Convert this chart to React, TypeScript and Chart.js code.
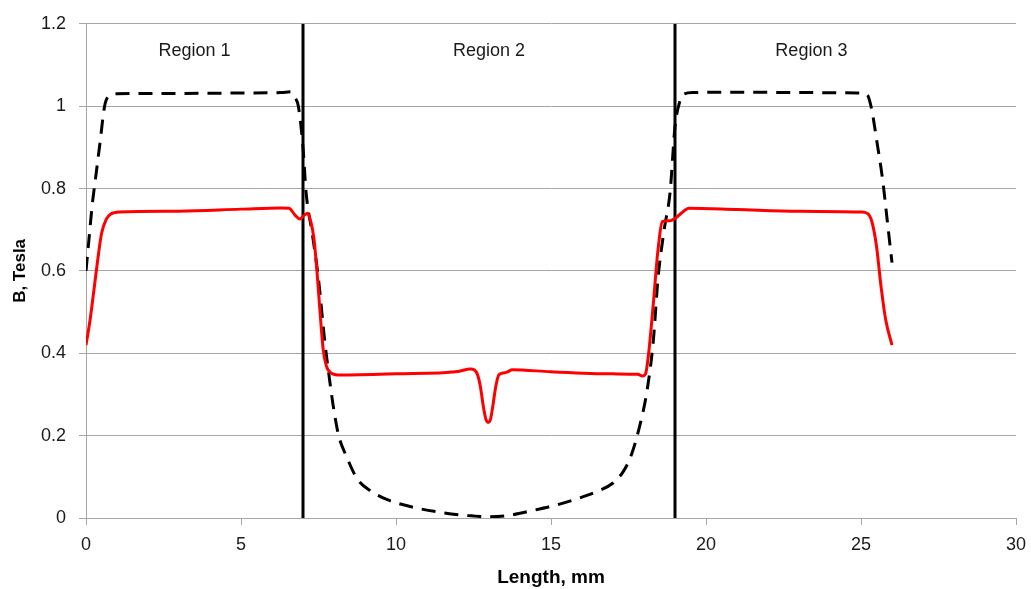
import React, { useEffect, useRef } from "react";
import { Chart, registerables } from "chart.js";

Chart.register(...registerables);

// Dashed black curve (x in mm, B in Tesla)
const dashedX = [0, 0.1, 0.2, 0.3, 0.45, 0.6, 0.75, 1.0, 3, 5, 6.3, 6.6, 6.75, 6.85, 7.0, 7.1, 7.3, 7.5, 7.7, 7.85, 8.0, 8.15, 8.4, 8.75, 9.2, 9.7, 10.5, 11.5, 12.3, 13.0, 13.6, 14.4, 15.2, 15.9, 16.5, 17.0, 17.35, 17.6, 17.85, 18.1, 18.3, 18.45, 18.65, 18.84, 19.0, 19.15, 19.3, 19.6, 21, 23, 25.0, 25.2, 25.35, 25.5, 25.7, 25.85, 26.0];
const dashedY = [0.6, 0.68, 0.76, 0.82, 0.91, 1.0, 1.025, 1.03, 1.031, 1.032, 1.033, 1.035, 1.02, 1.0, 0.9, 0.79, 0.69, 0.58, 0.43, 0.34, 0.26, 0.2, 0.15, 0.095, 0.065, 0.045, 0.027, 0.013, 0.006, 0.003, 0.006, 0.018, 0.032, 0.048, 0.065, 0.085, 0.115, 0.155, 0.22, 0.31, 0.43, 0.58, 0.7, 0.79, 0.95, 1.01, 1.03, 1.033, 1.034, 1.033, 1.032, 1.028, 0.99, 0.92, 0.82, 0.72, 0.62];

// Red curve
const redX = [0, 0.13, 0.25, 0.35, 0.5, 0.65, 0.8, 1.1, 3, 5, 6.3, 6.55, 6.75, 6.9, 7.05, 7.15, 7.25, 7.35, 7.45, 7.55, 7.65, 7.75, 7.9, 8.2, 10, 12.0, 12.4, 12.52, 12.62, 12.72, 12.82, 12.9, 12.97, 13.05, 13.12, 13.22, 13.32, 13.45, 13.6, 13.75, 15, 17.0, 17.8, 17.95, 18.05, 18.15, 18.3, 18.45, 18.6, 18.85, 19.0, 19.2, 19.45, 21, 23, 25.0, 25.2, 25.35, 25.5, 25.65, 25.8, 26.0];
const redY = [0.42, 0.48, 0.55, 0.61, 0.69, 0.725, 0.738, 0.743, 0.745, 0.75, 0.753, 0.752, 0.735, 0.726, 0.736, 0.74, 0.72, 0.68, 0.6, 0.5, 0.41, 0.37, 0.352, 0.347, 0.35, 0.356, 0.362, 0.36, 0.35, 0.32, 0.27, 0.24, 0.232, 0.24, 0.27, 0.32, 0.348, 0.352, 0.355, 0.36, 0.355, 0.35, 0.349, 0.345, 0.35, 0.4, 0.52, 0.65, 0.72, 0.722, 0.727, 0.74, 0.752, 0.749, 0.745, 0.743, 0.74, 0.72, 0.66, 0.56, 0.48, 0.42];

// Region boundaries and labels
const boundaries = [7, 19];
const regionLabels = ["Region 1", "Region 2", "Region 3"];
const regionLabelX = [3.5, 13, 23.4];
const regionLabelY = 1.135;

const xTicks = [0, 5, 10, 15, 20, 25, 30];
const yTicks = [0, 0.2, 0.4, 0.6, 0.8, 1, 1.2];

const FONT = "'Liberation Sans', Arial, sans-serif";
const TEXT = "#1a1a1a";
const GRID = "#a6a6a6";

const regionPlugin = {
  id: "regionLabels",
  afterDatasetsDraw(chart: any) {
    const { ctx, scales } = chart;
    ctx.save();
    ctx.font = `18px ${FONT}`;
    ctx.fillStyle = TEXT;
    ctx.textAlign = "center";
    ctx.textBaseline = "middle";
    regionLabels.forEach((t, i) => {
      ctx.fillText(t, scales.x.getPixelForValue(regionLabelX[i]), scales.y.getPixelForValue(regionLabelY));
    });
    ctx.restore();
  },
};

export default function App() {
  const ref = useRef<HTMLCanvasElement>(null);
  useEffect(() => {
    if (!ref.current) return;
    const toPts = (xs: number[], ys: number[]) => xs.map((x, i) => ({ x, y: ys[i] }));
    const chart = new Chart(ref.current, {
      type: "scatter",
      data: {
        datasets: [
          {
            data: toPts(redX, redY),
            showLine: true,
            borderColor: "#ff0000",
            borderWidth: 3,
            pointRadius: 0,
            cubicInterpolationMode: "monotone",
            order: 0,
          } as any,
          {
            data: toPts(dashedX, dashedY),
            showLine: true,
            borderColor: "#000000",
            borderWidth: 3,
            borderDash: [14, 9],
            pointRadius: 0,
            cubicInterpolationMode: "monotone",
            order: 1,
          } as any,
          ...boundaries.map((b) => ({
            data: [
              { x: b, y: yTicks[0] },
              { x: b, y: yTicks[yTicks.length - 1] },
            ],
            showLine: true,
            borderColor: "#000000",
            borderWidth: 3,
            pointRadius: 0,
            order: 2,
          })),
        ],
      },
      options: {
        animation: false,
        responsive: true,
        maintainAspectRatio: false,
        layout: { padding: { top: 21, right: 15, bottom: 0, left: 0 } },
        plugins: { legend: { display: false }, tooltip: { enabled: false } },
        scales: {
          x: {
            type: "linear",
            min: 0,
            max: 30,
            afterBuildTicks: (s: any) => {
              s.ticks = xTicks.map((v) => ({ value: v }));
            },
            afterFit: (s: any) => {
              s.height = 71;
              s.paddingLeft = 0;
              s.paddingRight = 0;
            },
            grid: { drawOnChartArea: false, drawTicks: true, tickLength: 7, color: GRID },
            border: { display: true, color: GRID },
            ticks: { color: TEXT, font: { family: FONT, size: 18 }, padding: 9, maxRotation: 0 },
            title: {
              display: true,
              text: "Length, mm",
              color: "#000",
              font: { family: FONT, size: 19, weight: "bold" },
              padding: { top: 0, bottom: 0 },
            },
          },
          y: {
            type: "linear",
            min: 0,
            max: 1.2,
            afterBuildTicks: (s: any) => {
              s.ticks = yTicks.map((v) => ({ value: v }));
            },
            afterFit: (s: any) => {
              s.width = 86;
            },
            grid: { color: GRID, drawTicks: true, tickLength: 7 },
            border: { display: true, color: GRID },
            ticks: { color: TEXT, font: { family: FONT, size: 18 }, padding: 13, callback: (v: any) => String(v) },
            title: {
              display: true,
              text: "B, Tesla",
              color: "#000",
              font: { family: FONT, size: 17, weight: "bold" },
              padding: { top: 10, bottom: 0 },
            },
          },
        },
      },
      plugins: [regionPlugin],
    });
    return () => chart.destroy();
  }, []);
  return (
    <div style={{ position: "fixed", left: 0, top: 0, width: 1031, height: 589, background: "#fff" }}>
      <canvas ref={ref} />
    </div>
  );
}
